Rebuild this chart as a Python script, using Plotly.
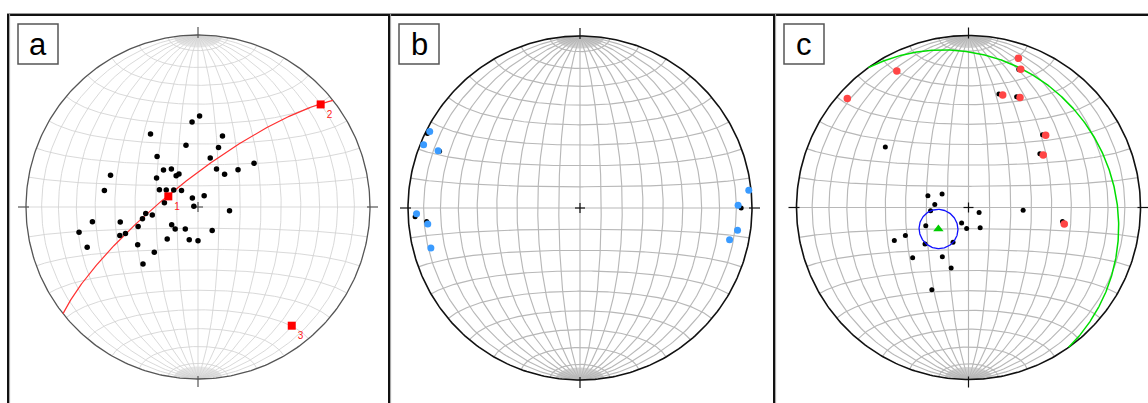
import numpy as np
import plotly.graph_objects as go

# ---------------- data (trend, plunge in degrees, lower hemisphere) ----------------
panel_labels = ["a", "b", "c"]

a_trend = [1, 356, 327, 19, 349, 19, 321, 14, 52, 26, 47, 317, 325, 330, 325, 39, 290, 305, 280, 294,
           298, 305, 315, 328, 29, 277, 281, 97, 263, 260, 258, 262, 259, 252, 236, 226, 210, 149, 258, 250,
           250, 224, 195, 180, 250, 238, 224, 224]
a_plunge = [46, 49, 48, 54, 60, 60, 59, 66, 56, 70, 64, 66, 68, 72, 72, 70, 45, 66, 44, 70,
            73, 76, 79, 85, 84, 74, 88, 75, 65, 68, 63, 38, 52, 60, 75, 75, 78, 77, 30, 50,
            53, 69, 74, 74, 32, 56, 60, 52]
a_eig_trend = [289.7, 50.1, 141.7]
a_eig_plunge = [75.1, 7.8, 13.1]
a_eig_labels = ["1", "2", "3"]
a_girdle_pole = 2  # girdle = plane normal to eigenvector 3

b_blue_trend = [297, 292, 292, 268, 264, 255, 84, 89, 98, 102]
b_blue_plunge = [2.2, 2.2, 12, 5.5, 12, 11.2, 1.5, 8.9, 8.3, 12.1]
b_black_trend = [296, 292, 267, 265, 90]
b_black_plunge = [1.5, 13, 4.5, 11.5, 7]

c_red_trend = [18.5, 20.7, 332.3, 312, 16.9, 25.1, 46.9, 54.9, 99.8]
c_red_plunge = [9.4, 15.2, 11.3, 5.8, 32.2, 30.1, 38.5, 45.9, 42.9]
c_under_trend = [20, 15, 23.5, 45.5, 53, 98.5]
c_under_plunge = [15.7, 32.2, 30.5, 39.5, 46.9, 44]
c_black_trend = [306, 286, 297, 275, 265, 115, 93, 247, 204, 185, 150, 246, 246, 230, 204, 228, 208, 196, 204]
c_black_plunge = [40, 70, 76, 74, 72, 84.5, 64, 68, 82, 80, 79, 51, 57, 63, 72, 54, 63.5, 60, 46.5]
c_mean_trend = 234.4
c_mean_plunge = 72.5
c_alpha95 = 9.2

# ---------------- projection helpers (Schmidt equal-area, lower hemisphere) ----------------
def tp_to_vec(trend, plunge):
    t, p = np.radians(trend), np.radians(plunge)
    return np.array([np.cos(p) * np.sin(t), np.cos(p) * np.cos(t), np.sin(p)])

def vec_proj(v):
    v = np.atleast_2d(v).astype(float)
    e, n, d = v[:, 0].copy(), v[:, 1].copy(), v[:, 2].copy()
    neg = d < 0
    e[neg], n[neg], d[neg] = -e[neg], -n[neg], -d[neg]
    r = np.sqrt(np.clip(1 - d, 0, 1))
    h = np.hypot(e, n)
    h[h == 0] = 1
    return r * e / h, r * n / h

def proj_tp(trend, plunge):
    t = np.radians(np.asarray(trend, float))
    p = np.radians(np.asarray(plunge, float))
    r = np.sqrt(2) * np.sin((np.pi / 2 - p) / 2)
    return r * np.sin(t), r * np.cos(t)

def meridian(dip, a_deg):
    a = np.radians(a_deg)
    dd = np.radians(dip)
    v = np.stack([np.sin(a) * np.cos(dd), np.cos(a), np.sin(a) * np.sin(dd)], axis=1)
    return vec_proj(v)

def net_lines():
    xs, ys = [], []
    full = np.linspace(0, 180, 181)
    for dip in range(10, 180, 10):
        x, y = meridian(dip, full)
        xs += list(x) + [None]; ys += list(y) + [None]
    a = np.radians(full)
    for beta in range(10, 180, 10):
        b = np.radians(beta)
        v = np.stack([np.sin(b) * np.cos(a), np.full_like(a, np.cos(b)), np.sin(b) * np.sin(a)], axis=1)
        x, y = vec_proj(v)
        xs += list(x) + [None]; ys += list(y) + [None]
    return xs, ys

def polar_caps():
    xs, ys = [], []
    for dip in range(2, 180, 2):
        if dip % 10 == 0:
            continue
        for seg in (np.linspace(0, 8, 9), np.linspace(172, 180, 9)):
            x, y = meridian(dip, seg)
            xs += list(x) + [None]; ys += list(y) + [None]
    return xs, ys

def great_circle(pole_trend, pole_plunge):
    dd = np.radians(pole_trend + 180)
    dip = np.radians(90 - pole_plunge)
    dipv = np.array([np.sin(dd) * np.cos(dip), np.cos(dd) * np.cos(dip), np.sin(dip)])
    strk = np.array([np.sin(dd - np.pi / 2), np.cos(dd - np.pi / 2), 0.0])
    a = np.radians(np.linspace(0, 180, 361))
    v = np.outer(np.cos(a), strk) + np.outer(np.sin(a), dipv)
    return vec_proj(v)

def small_circle(trend, plunge, alpha):
    A = tp_to_vec(trend, plunge)
    b1 = np.cross(A, [0, 0, 1.0]); b1 /= np.linalg.norm(b1)
    b2 = np.cross(A, b1)
    al = np.radians(alpha)
    phi = np.radians(np.linspace(0, 360, 181))
    v = np.cos(al) * A + np.sin(al) * (np.outer(np.cos(phi), b1) + np.outer(np.sin(phi), b2))
    return vec_proj(v)

# ---------------- layout geometry ----------------
W, H = 1148, 403
R = 172.0
panels = [  # (left px, right px, centre x px, centre y px)
    (0, 389, 198.0, 207.0),
    (389, 774, 580.0, 208.0),
    (774, 1148, 968.5, 207.5),
]
styles = [
    dict(grid="#d2d2d2", cap="#e0e0e0", gw=0.85, prim="#555555", pw=1.3),
    dict(grid="#b8b8b8", cap="#c8c8c8", gw=1.15, prim="#111111", pw=1.6),
    dict(grid="#b8b8b8", cap="#c8c8c8", gw=1.15, prim="#111111", pw=1.6),
]

fig = go.Figure()
gx, gy = net_lines()
cpx, cpy = polar_caps()
th = np.linspace(0, 2 * np.pi, 361)

for i, (l, r_, cx, cy) in enumerate(panels):
    ax = "" if i == 0 else str(i + 1)
    st = styles[i]
    xa, ya = "x" + ax, "y" + ax
    fig.add_trace(go.Scatter(x=cpx, y=cpy, mode="lines", line=dict(color=st["cap"], width=0.8),
                             xaxis=xa, yaxis=ya, hoverinfo="skip", showlegend=False))
    fig.add_trace(go.Scatter(x=gx, y=gy, mode="lines", line=dict(color=st["grid"], width=st["gw"]),
                             xaxis=xa, yaxis=ya, hoverinfo="skip", showlegend=False))
    fig.add_trace(go.Scatter(x=np.cos(th), y=np.sin(th), mode="lines",
                             line=dict(color=st["prim"], width=st["pw"]),
                             xaxis=xa, yaxis=ya, hoverinfo="skip", showlegend=False))
    # cardinal ticks and centre cross
    o, ins = 1 + 8 / R, 1 - 3 / R
    c = 5 / R
    tkx = [0, 0, None, 0, 0, None, ins, o, None, -ins, -o, None, -c, c, None, 0, 0]
    tky = [ins, o, None, -ins, -o, None, 0, 0, None, 0, 0, None, 0, 0, None, -c, c]
    fig.add_trace(go.Scatter(x=tkx, y=tky, mode="lines", line=dict(color=st["prim"], width=1.2),
                             xaxis=xa, yaxis=ya, hoverinfo="skip", showlegend=False))
    dom = [l / W, r_ / W]
    fig.layout["xaxis" + ax] = dict(domain=dom, range=[(l - cx) / R, (r_ - cx) / R], visible=False,
                                   fixedrange=True)
    fig.layout["yaxis" + ax] = dict(domain=[0, 1], range=[(cy - H) / R, cy / R], visible=False,
                                   fixedrange=True)

# ---- panel a ----
gx_, gy_ = great_circle(a_eig_trend[a_girdle_pole], a_eig_plunge[a_girdle_pole])
fig.add_trace(go.Scatter(x=gx_, y=gy_, mode="lines", line=dict(color="#ff3030", width=1.2),
                         xaxis="x", yaxis="y", hoverinfo="skip", showlegend=False))
x, y = proj_tp(a_trend, a_plunge)
fig.add_trace(go.Scatter(x=x, y=y, mode="markers", marker=dict(color="black", size=5.5),
                         xaxis="x", yaxis="y", showlegend=False))
x, y = proj_tp(a_eig_trend, a_eig_plunge)
fig.add_trace(go.Scatter(x=x, y=y, mode="markers+text", text=a_eig_labels, textposition="bottom right",
                         textfont=dict(color="#ff2020", size=10, family="Liberation Sans"),
                         marker=dict(color="#ff0000", size=8, symbol="square"),
                         xaxis="x", yaxis="y", showlegend=False))

# ---- panel b ----
x, y = proj_tp(b_black_trend, b_black_plunge)
fig.add_trace(go.Scatter(x=x, y=y, mode="markers", marker=dict(color="black", size=5),
                         xaxis="x2", yaxis="y2", showlegend=False))
x, y = proj_tp(b_blue_trend, b_blue_plunge)
fig.add_trace(go.Scatter(x=x, y=y, mode="markers", marker=dict(color="#3a9bff", size=7),
                         xaxis="x2", yaxis="y2", showlegend=False))

# ---- panel c ----
gx_, gy_ = great_circle(c_mean_trend, c_mean_plunge)
fig.add_trace(go.Scatter(x=gx_, y=gy_, mode="lines", line=dict(color="#00dd00", width=1.5),
                         xaxis="x3", yaxis="y3", hoverinfo="skip", showlegend=False))
x, y = proj_tp(c_black_trend, c_black_plunge)
fig.add_trace(go.Scatter(x=x, y=y, mode="markers", marker=dict(color="black", size=5),
                         xaxis="x3", yaxis="y3", showlegend=False))
x, y = proj_tp(c_under_trend, c_under_plunge)
fig.add_trace(go.Scatter(x=x, y=y, mode="markers", marker=dict(color="black", size=5),
                         xaxis="x3", yaxis="y3", showlegend=False))
x, y = proj_tp(c_red_trend, c_red_plunge)
fig.add_trace(go.Scatter(x=x, y=y, mode="markers", marker=dict(color="#ff4545", size=7.5),
                         xaxis="x3", yaxis="y3", showlegend=False))
sx, sy = small_circle(c_mean_trend, c_mean_plunge, c_alpha95)
fig.add_trace(go.Scatter(x=sx, y=sy, mode="lines", line=dict(color="#1010ff", width=1.3),
                         xaxis="x3", yaxis="y3", hoverinfo="skip", showlegend=False))
x, y = proj_tp([c_mean_trend], [c_mean_plunge])
fig.add_trace(go.Scatter(x=x, y=y, mode="markers", marker=dict(color="#00cc00", size=9, symbol="triangle-up"),
                         xaxis="x3", yaxis="y3", showlegend=False))

# ---------------- frames and labels ----------------
def px(xp):
    return xp / W

def py(yp):
    return 1 - yp / H

shapes = []
shapes.append(dict(type="line", xref="paper", yref="paper", x0=px(7), x1=1, y0=py(13.5), y1=py(13.5),
                   line=dict(color="#9a9a9a", width=1)))
shapes.append(dict(type="line", xref="paper", yref="paper", x0=px(7), x1=1, y0=py(15), y1=py(15),
                   line=dict(color="#111111", width=2)))
for xv in [8, 389, 774]:
    shapes.append(dict(type="line", xref="paper", yref="paper", x0=px(xv), x1=px(xv), y0=0, y1=py(14),
                       line=dict(color="#111111", width=2)))
    shapes.append(dict(type="line", xref="paper", yref="paper", x0=px(xv + 1.6), x1=px(xv + 1.6), y0=0,
                       y1=py(14), line=dict(color="#a0a0a0", width=1)))
annotations = []
for i, (l, r_, cx, cy) in enumerate(panels):
    bx = l + 18 if i == 0 else l + 10
    shapes.append(dict(type="rect", xref="paper", yref="paper", x0=px(bx), x1=px(bx + 40),
                       y0=py(64), y1=py(24), line=dict(color="#555555", width=1.5), fillcolor="white"))
    annotations.append(dict(xref="paper", yref="paper", x=px(bx + 20), y=py(44), text=panel_labels[i],
                            showarrow=False, xanchor="center", yanchor="middle",
                            font=dict(family="Liberation Sans, Arial", size=31, color="black")))

fig.update_layout(width=W, height=H, margin=dict(l=0, r=0, t=0, b=0), paper_bgcolor="white",
                  plot_bgcolor="white", shapes=shapes, annotations=annotations, showlegend=False)

fig.write_html("out.html", config={"displayModeBar": False},
               post_script="document.body.style.margin='0';document.body.style.overflow='hidden';")
